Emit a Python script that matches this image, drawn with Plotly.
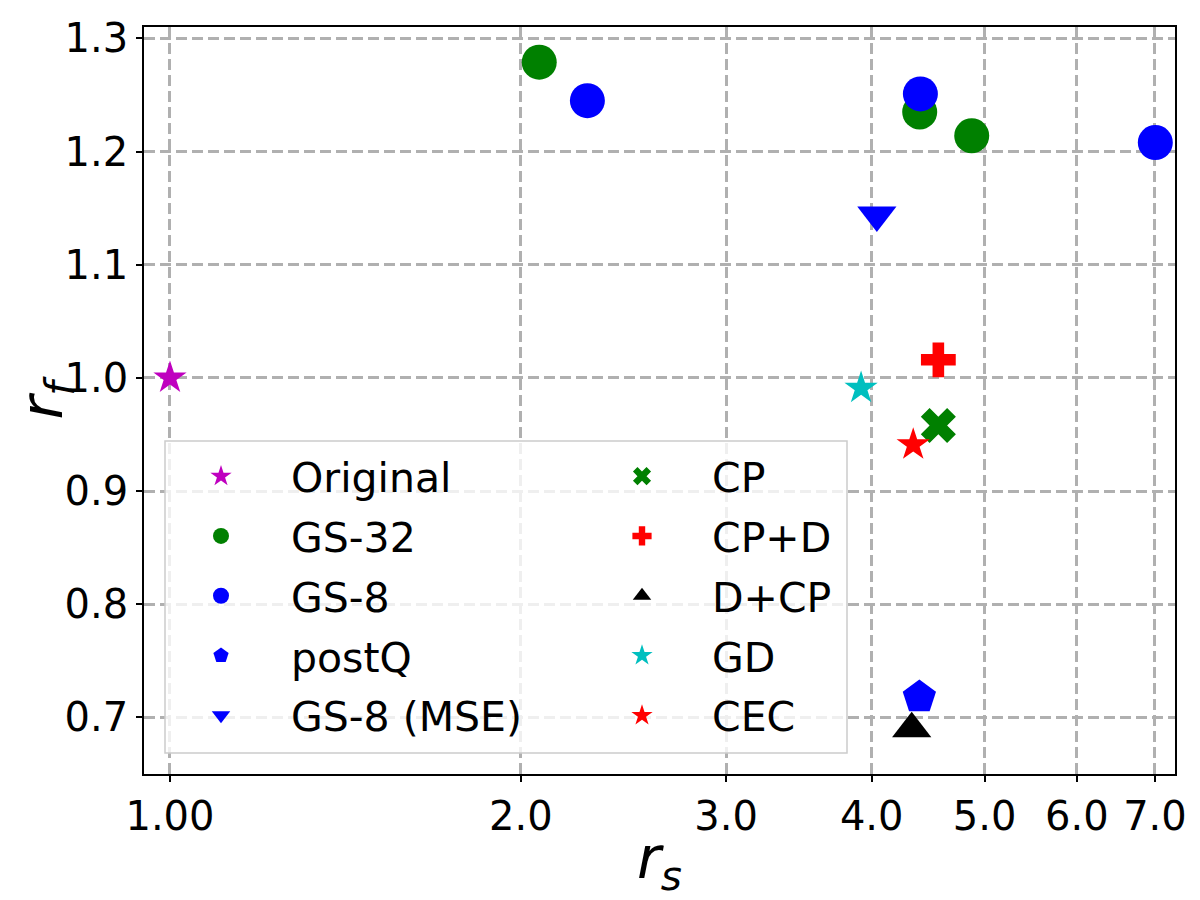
import plotly.graph_objects as go

# ---- data ----
original_x = [1.0]
original_y = [1.0]
gs32_x = [2.074, 4.398, 4.874]
gs32_y = [1.279, 1.235, 1.214]
gs8_x = [2.281, 4.404, 7.005]
gs8_y = [1.245, 1.251, 1.208]
postq_x = [4.395]
postq_y = [0.718]
gs8mse_x = [4.041]
gs8mse_y = [1.144]
cp_x = [4.563]
cp_y = [0.958]
cpd_x = [4.563]
cpd_y = [1.016]
dcp_x = [4.329]
dcp_y = [0.690]
gd_x = [3.917]
gd_y = [0.991]
cec_x = [4.342]
cec_y = [0.941]

x_tickvals = [1, 2, 3, 4, 5, 6, 7]
x_ticktext = ["1.00", "2.0", "3.0", "4.0", "5.0", "6.0", "7.0"]
y_tickvals = [0.7, 0.8, 0.9, 1.0, 1.1, 1.2, 1.3]
y_ticktext = ["0.7", "0.8", "0.9", "1.0", "1.1", "1.2", "1.3"]

FONT = "DejaVu Sans"

fig = go.Figure()

def add(name, xs, ys, symbol, color, size, legend):
    fig.add_trace(go.Scatter(
        x=xs, y=ys, mode="markers", name=name,
        marker=dict(symbol=symbol, color=color, size=size, line=dict(width=0)),
        legend=legend, legendgroup=name,
    ))

add("Original", original_x, original_y, "star", "#bf00bf", 25, "legend")
add("GS-32", gs32_x, gs32_y, "circle", "#008000", 35, "legend")
add("GS-8", gs8_x, gs8_y, "circle", "#0000ff", 35, "legend")
add("postQ", postq_x, postq_y, "pentagon", "#0000ff", 35, "legend")
add("GS-8 (MSE)", gs8mse_x, gs8mse_y, "triangle-down", "#0000ff", 34, "legend")
add("CP", cp_x, cp_y, "x", "#008000", 31, "legend2")
add("CP+D", cpd_x, cpd_y, "cross", "#ff0000", 29, "legend2")
add("D+CP", dcp_x, dcp_y, "triangle-up", "#000000", 34, "legend2")
add("GD", gd_x, gd_y, "star", "#00bfbf", 25, "legend2")
add("CEC", cec_x, cec_y, "star", "#ff0000", 25, "legend2")

# the page places the figure 8px from the top-left corner
OFF = 8
W, H = 1200 - OFF, 900 - OFF
L, R, T, B = 144 - OFF, 25, 27 - OFF, 126
pw, ph = W - L - R, H - T - B

def px(xp):
    return (xp - OFF - L) / pw

def py(yp):
    return (H - B - (yp - OFF)) / ph

leg_common = dict(
    font=dict(family=FONT, size=41, color="black"),
    bgcolor="rgba(0,0,0,0)", borderwidth=0,
    orientation="v", xanchor="left", yanchor="top",
    tracegroupgap=3.5, itemwidth=130, traceorder="grouped",
)

fig.update_layout(
    width=W, height=H,
    margin=dict(l=L, r=R, t=T, b=B, autoexpand=False),
    paper_bgcolor="white", plot_bgcolor="white",
    font=dict(family=FONT, size=40, color="black"),
    showlegend=True,
    legend=dict(leg_common, x=px(151), y=py(443)),
    legend2=dict(leg_common, x=px(572), y=py(443)),
    shapes=[dict(
        type="rect", xref="paper", yref="paper",
        x0=px(165), x1=px(847), y0=py(753), y1=py(441),
        fillcolor="rgba(255,255,255,0.8)",
        line=dict(color="#cccccc", width=1.5), layer="above",
    )],
)

fig.update_xaxes(
    type="log", range=[-0.0223, 0.8623], automargin=False,
    tickvals=x_tickvals, ticktext=x_ticktext,
    showgrid=True, gridcolor="#b0b0b0", gridwidth=3, griddash="11px,5px",
    zeroline=False,
    showline=True, linecolor="black", linewidth=1.6, mirror=True,
    ticks="outside", ticklen=6, tickwidth=1.6, tickcolor="black",
    tickfont=dict(family=FONT, size=40, color="black"),
    title=dict(text="<i>r</i><sub><i>s</i></sub>", font=dict(family=FONT, size=58), standoff=4),
)
fig.update_yaxes(
    range=[0.65, 1.3101], automargin=False,
    tickvals=y_tickvals, ticktext=y_ticktext,
    showgrid=True, gridcolor="#b0b0b0", gridwidth=3, griddash="11px,5px",
    zeroline=False,
    showline=True, linecolor="black", linewidth=1.6, mirror=True,
    ticks="outside", ticklen=6, tickwidth=1.6, tickcolor="black",
    tickfont=dict(family=FONT, size=40, color="black"),
    title=dict(text="<i>r</i><sub><i>f</i></sub>", font=dict(family=FONT, size=58), standoff=10),
)

fig.write_html("out.html")
